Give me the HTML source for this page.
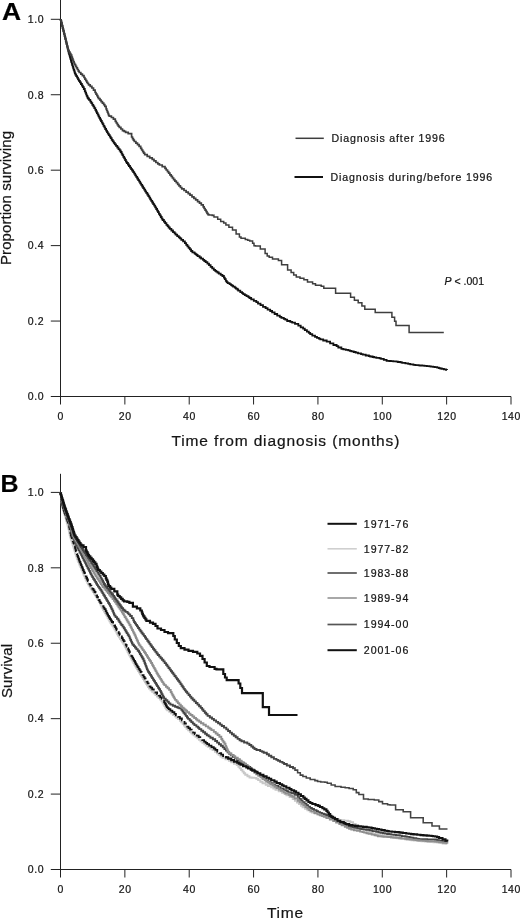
<!DOCTYPE html>
<html lang="en">
<head>
<meta charset="utf-8">
<title>Survival curves</title>
<style>
html,body{margin:0;padding:0;background:#fff;}
body{width:520px;height:919px;overflow:hidden;}
svg{display:block;font-family:"Liberation Sans",Arial,Helvetica,sans-serif;fill:#1a1a1a;}
svg text{fill:#151515;stroke:#151515;stroke-width:0.22px;}
.tk text{font-size:10.5px;letter-spacing:0.6px;}
.lg{font-size:10.6px;}
.pv{font-size:10.5px;}
.ax{font-size:15.5px;}
.ay{font-size:15px;}
.pl{font-weight:bold;fill:#000;}
</style>
</head>
<body>
<svg width="520" height="919" viewBox="0 0 520 919">
<rect width="520" height="919" fill="#fff"/>
<g stroke="#222" stroke-width="1" fill="none" shape-rendering="auto">
<line x1="60.5" y1="0" x2="60.5" y2="404.5"/>
<line x1="50.8" y1="396.5" x2="511" y2="396.5"/>
<line x1="50.8" y1="321.06" x2="60.5" y2="321.06"/>
<line x1="50.8" y1="245.62" x2="60.5" y2="245.62"/>
<line x1="50.8" y1="170.18" x2="60.5" y2="170.18"/>
<line x1="50.8" y1="94.74" x2="60.5" y2="94.74"/>
<line x1="50.8" y1="19.30" x2="60.5" y2="19.30"/>
<line x1="124.86" y1="396.5" x2="124.86" y2="404.5"/>
<line x1="189.21" y1="396.5" x2="189.21" y2="404.5"/>
<line x1="253.57" y1="396.5" x2="253.57" y2="404.5"/>
<line x1="317.93" y1="396.5" x2="317.93" y2="404.5"/>
<line x1="382.29" y1="396.5" x2="382.29" y2="404.5"/>
<line x1="446.64" y1="396.5" x2="446.64" y2="404.5"/>
<line x1="511.00" y1="396.5" x2="511.00" y2="404.5"/>
</g>
<g class="tk">
<text x="44.2" y="400.30" text-anchor="end">0.0</text>
<text x="44.2" y="324.86" text-anchor="end">0.2</text>
<text x="44.2" y="249.42" text-anchor="end">0.4</text>
<text x="44.2" y="173.98" text-anchor="end">0.6</text>
<text x="44.2" y="98.54" text-anchor="end">0.8</text>
<text x="44.2" y="23.10" text-anchor="end">1.0</text>
<text x="60.80" y="419.70" text-anchor="middle">0</text>
<text x="125.16" y="419.70" text-anchor="middle">20</text>
<text x="189.51" y="419.70" text-anchor="middle">40</text>
<text x="253.87" y="419.70" text-anchor="middle">60</text>
<text x="318.23" y="419.70" text-anchor="middle">80</text>
<text x="382.59" y="419.70" text-anchor="middle">100</text>
<text x="446.94" y="419.70" text-anchor="middle">120</text>
<text x="511.30" y="419.70" text-anchor="middle">140</text>
</g>
<polyline points="60.6,19.0 60.6,19.8 61.0,19.8 61.0,21.4 61.4,21.4 61.4,23.0 61.8,23.0 61.8,24.6 62.2,24.6 62.2,26.2 62.6,26.2 62.6,27.8 63.0,27.8 63.0,29.4 63.4,29.4 63.4,31.0 63.8,31.0 63.8,32.6 64.2,32.6 64.2,34.2 64.6,34.2 64.6,35.8 65.0,35.8 65.0,37.5 65.4,37.5 65.4,39.2 65.8,39.2 65.8,40.9 66.2,40.9 66.2,42.5 66.6,42.5 66.6,44.2 67.0,44.2 67.0,45.9 67.4,45.9 67.4,47.5 67.8,47.5 67.8,49.2 68.2,49.2 68.2,50.9 68.6,50.9 68.6,52.5 69.1,52.5 69.1,54.1 69.5,54.1 69.5,55.7 70.0,55.7 70.0,57.3 70.4,57.3 70.4,58.9 70.9,58.9 70.9,60.5 71.3,60.5 71.3,62.1 71.8,62.1 71.8,63.7 72.2,63.7 72.2,65.2 72.7,65.2 72.7,66.7 73.2,66.7 73.2,68.3 73.7,68.3 73.7,69.9 74.3,69.9 74.3,71.5 74.8,71.5 74.8,73.1 75.3,73.1 75.3,74.5 76.2,74.5 76.2,76.1 77.1,76.1 77.1,77.7 78.0,77.7 78.0,79.3 78.9,79.3 78.9,80.8 79.9,80.8 79.9,82.4 80.9,82.4 80.9,84.0 81.9,84.0 81.9,85.6 82.8,85.6 82.8,87.1 83.8,87.1 83.8,89.0 84.8,89.0 84.8,91.1 85.4,91.1 85.4,92.7 86.1,92.7 86.1,94.3 86.7,94.3 86.7,95.9 87.4,95.9 87.4,97.5 88.0,97.5 88.0,98.5 89.0,98.5 89.0,99.9 90.3,99.9 90.3,101.6 91.3,101.6 91.3,103.2 92.3,103.2 92.3,104.8 93.3,104.8 93.3,106.4 94.3,106.4 94.3,108.1 95.3,108.1 95.3,109.9 96.1,109.9 96.1,111.5 96.9,111.5 96.9,113.1 97.7,113.1 97.7,114.7 98.5,114.7 98.5,116.3 99.3,116.3 99.3,117.9 100.1,117.9 100.1,119.5 101.0,119.5 101.0,121.0 101.8,121.0 101.8,122.6 102.7,122.6 102.7,124.2 103.5,124.2 103.5,125.8 104.4,125.8 104.4,127.4 105.2,127.4 105.2,129.0 106.1,129.0 106.1,130.6 107.0,130.6 107.0,132.2 107.8,132.2 107.8,133.6 108.8,133.6 108.8,135.2 109.8,135.2 109.8,136.7 110.7,136.7 110.7,138.2 111.7,138.2 111.7,139.8 112.7,139.8 112.7,141.4 113.8,141.4 113.8,142.9 114.8,142.9 114.8,144.3 116.0,144.3 116.0,145.9 117.3,145.9 117.3,147.5 118.5,147.5 118.5,149.1 119.7,149.1 119.7,150.5 120.7,150.5 120.7,152.0 121.6,152.0 121.6,153.6 122.4,153.6 122.4,155.2 123.3,155.2 123.3,156.8 124.2,156.8 124.2,158.4 125.1,158.4 125.1,160.0 125.9,160.0 125.9,161.6 126.8,161.6 126.8,163.0 127.9,163.0 127.9,164.5 128.9,164.5 128.9,166.0 130.0,166.0 130.0,167.6 131.1,167.6 131.1,169.1 132.1,169.1 132.1,170.5 133.2,170.5 133.2,172.1 134.2,172.1 134.2,173.7 135.2,173.7 135.2,175.3 136.2,175.3 136.2,176.9 137.2,176.9 137.2,178.5 138.2,178.5 138.2,180.1 139.2,180.1 139.2,181.7 140.2,181.7 140.2,183.3 141.2,183.3 141.2,184.9 142.2,184.9 142.2,186.5 143.2,186.5 143.2,188.1 144.2,188.1 144.2,189.7 145.2,189.7 145.2,191.3 146.2,191.3 146.2,192.9 147.3,192.9 147.3,194.5 148.3,194.5 148.3,196.1 149.3,196.1 149.3,197.7 150.2,197.7 150.2,199.3 151.2,199.3 151.2,200.9 152.2,200.9 152.2,202.5 153.2,202.5 153.2,204.1 154.2,204.1 154.2,205.7 155.2,205.7 155.2,207.3 156.2,207.3 156.2,209.0 157.1,209.0 157.1,210.6 158.0,210.6 158.0,212.2 158.9,212.2 158.9,213.8 159.8,213.8 159.8,215.4 160.8,215.4 160.8,217.0 161.7,217.0 161.7,218.6 162.6,218.6 162.6,220.0 163.9,220.0 163.9,221.6 165.1,221.6 165.1,223.2 166.4,223.2 166.4,224.8 167.6,224.8 167.6,226.2 168.6,226.2 168.6,227.5 169.8,227.5 169.8,228.9 171.4,228.9 171.4,230.5 173.0,230.5 173.0,232.1 174.6,232.1 174.6,233.4 175.6,233.4 175.6,234.7 177.2,234.7 177.2,236.1 178.8,236.1 178.8,237.3 180.0,237.3 180.0,238.4 181.3,238.4 181.3,239.8 183.1,239.8 183.1,241.3 184.9,241.3 184.9,243.2 186.2,243.2 186.2,244.8 187.4,244.8 187.4,246.3 188.6,246.3 188.6,247.8 189.8,247.8 189.8,249.4 191.1,249.4 191.1,251.0 192.4,251.0 192.4,252.3 194.5,252.3 194.5,253.4 195.4,253.4 195.4,254.2 196.5,254.2 196.5,255.0 197.6,255.0 197.6,256.2 199.6,256.2 199.6,257.5 201.1,257.5 201.1,258.7 203.0,258.7 203.0,259.9 204.3,259.9 204.3,261.0 205.7,261.0 205.7,262.1 207.4,262.1 207.4,263.6 209.0,263.6 209.0,265.2 210.6,265.2 210.6,266.8 212.2,266.8 212.2,268.4 213.8,268.4 213.8,269.9 215.2,269.9 215.2,270.9 216.2,270.9 216.2,271.7 217.5,271.7 217.5,272.5 218.8,272.5 218.8,273.6 220.7,273.6 220.7,274.9 222.4,274.9 222.4,276.0 223.9,276.0 223.9,277.6 224.8,277.6 224.8,279.2 225.8,279.2 225.8,280.8 226.7,280.8 226.7,282.1 227.7,282.1 227.7,283.1 229.6,283.1 229.6,284.1 230.9,284.1 230.9,284.8 231.8,284.8 231.8,285.6 233.1,285.6 233.1,286.6 234.8,286.6 234.8,287.7 235.9,287.7 235.9,288.6 237.4,288.6 237.4,289.5 238.2,289.5 238.2,290.6 240.3,290.6 240.3,292.1 242.1,292.1 242.1,293.2 243.2,293.2 243.2,294.1 244.8,294.1 244.8,295.1 246.5,295.1 246.5,296.2 248.4,296.2 248.4,297.1 249.5,297.1 249.5,298.0 251.2,298.0 251.2,299.3 253.8,299.3 253.8,300.9 256.3,300.9 256.3,302.2 258.0,302.2 258.0,303.6 260.5,303.6 260.5,305.2 263.0,305.2 263.0,306.8 265.6,306.8 265.6,308.2 267.6,308.2 267.6,309.6 270.2,309.6 270.2,311.0 272.1,311.0 272.1,312.4 274.6,312.4 274.6,314.0 277.2,314.0 277.2,315.6 279.8,315.6 279.8,316.8 281.4,316.8 281.4,317.8 283.8,317.8 283.8,318.8 285.3,318.8 285.3,319.7 287.2,319.7 287.2,321.0 290.3,321.0 290.3,321.9 292.2,321.9 292.2,322.6 295.0,322.6 295.0,323.8 298.3,323.8 298.3,325.7 300.7,325.7 300.7,327.3 303.1,327.3 303.1,328.7 304.8,328.7 304.8,330.2 306.9,330.2 306.9,331.7 308.8,331.7 308.8,332.9 310.2,332.9 310.2,334.2 312.3,334.2 312.3,335.7 315.0,335.7 315.0,336.8 317.0,336.8 317.0,337.8 318.9,337.8 318.9,338.6 320.3,338.6 320.3,339.4 323.2,339.4 323.2,340.5 326.7,340.5 326.7,341.7 330.1,341.7 330.1,343.4 333.4,343.4 333.4,345.0 336.6,345.0 336.6,346.2 338.3,346.2 338.3,347.5 341.4,347.5 341.4,348.8 343.4,348.8 343.4,349.3 345.8,349.3 345.8,349.9 348.3,349.9 348.3,350.4 349.9,350.4 349.9,350.8 351.4,350.8 351.4,351.3 353.7,351.3 353.7,352.0 355.7,352.0 355.7,352.6 358.0,352.6 358.0,353.4 361.0,353.4 361.0,354.1 362.8,354.1 362.8,354.7 365.7,354.7 365.7,355.5 368.9,355.5 368.9,356.1 370.2,356.1 370.2,356.5 372.6,356.5 372.6,357.0 374.1,357.0 374.1,357.3 376.3,357.3 376.3,357.9 379.6,357.9 379.6,358.4 381.1,358.4 381.1,358.8 383.8,358.8 383.8,359.9 386.6,359.9 386.6,360.8 389.4,360.8 389.4,361.0 390.8,361.0 390.8,361.1 393.3,361.1 393.3,361.3 396.5,361.3 396.5,361.7 398.0,361.7 398.0,362.0 400.6,362.0 400.6,362.4 402.2,362.4 402.2,362.8 405.4,362.8 405.4,363.4 408.2,363.4 408.2,363.9 410.3,363.9 410.3,364.4 413.4,364.4 413.4,364.9 415.4,364.9 415.4,365.1 417.0,365.1 417.0,365.2 418.7,365.2 418.7,365.4 420.1,365.4 420.1,365.5 422.3,365.5 422.3,365.7 424.4,365.7 424.4,365.9 426.8,365.9 426.8,366.2 429.5,366.2 429.5,366.4 431.0,366.4 431.0,366.6 433.1,366.6 433.1,366.9 434.7,366.9 434.7,367.2 437.2,367.2 437.2,367.7 438.9,367.7 438.9,368.1 440.3,368.1 440.3,368.5 441.8,368.5 441.8,368.9 443.9,368.9 443.9,369.4 446.0,369.4 446.0,369.9 447.0,369.9 447.0,370.0" fill="none" stroke="#111" stroke-width="1.8" stroke-linejoin="miter" stroke-miterlimit="2" stroke-linecap="butt"/>
<polyline points="214.0,215.6 214.0,216.9 217.7,216.9 217.7,219.3 220.7,219.3 220.7,221.4 223.7,221.4 223.7,223.1 225.9,223.1 225.9,224.9 228.9,224.9 228.9,227.3 232.5,227.3 232.5,229.9 236.1,229.9 236.1,233.9 239.4,233.9 239.4,237.1 241.0,237.1 241.0,238.2 245.3,238.2 245.3,239.4 247.7,239.4 247.7,240.2 249.7,240.2 249.7,241.1 252.6,241.1 252.6,243.3 254.0,243.3 254.0,245.7 255.4,245.7 255.4,246.0 260.3,246.0 260.3,249.1 265.1,249.1 265.1,253.5 267.2,253.5 267.2,256.1 269.2,256.1 269.2,257.3 272.5,257.3 272.5,258.9 278.4,258.9 278.4,260.4 281.6,260.4 281.6,264.7 287.6,264.7 287.6,269.9 291.1,269.9 291.1,272.4 293.7,272.4 293.7,275.0 296.3,275.0 296.3,276.9 300.0,276.9 300.0,278.3 303.9,278.3 303.9,279.7 307.5,279.7 307.5,282.0 312.6,282.0 312.6,283.7 315.5,283.7 315.5,285.2 321.2,285.2 321.2,286.2 321.5,286.2 321.5,286.3 323.8,286.3 323.8,288.3 335.6,288.3 335.6,293.3 350.6,293.3 350.6,297.2 354.4,297.2 354.4,300.2 358.2,300.2 358.2,302.8 361.9,302.8 361.9,306.0 364.8,306.0 364.8,309.3 375.2,309.3 375.2,312.5 391.9,312.5 391.9,317.2 394.6,317.2 394.6,321.3 396.0,321.3 396.0,325.5 409.1,325.5 409.1,332.5 443.8,332.5" fill="none" stroke="#3e3e3e" stroke-width="1.5" stroke-linejoin="miter" stroke-miterlimit="2" stroke-linecap="butt"/>
<polyline points="60.6,19.0 60.6,19.8 61.0,19.8 61.0,21.4 61.4,21.4 61.4,23.0 61.8,23.0 61.8,24.6 62.2,24.6 62.2,26.2 62.6,26.2 62.6,27.8 63.0,27.8 63.0,29.4 63.4,29.4 63.4,31.0 63.8,31.0 63.8,32.6 64.2,32.6 64.2,34.2 64.6,34.2 64.6,35.8 65.0,35.8 65.0,37.5 65.4,37.5 65.4,39.1 65.8,39.1 65.8,40.8 66.2,40.8 66.2,42.4 66.6,42.4 66.6,44.1 67.0,44.1 67.0,45.7 67.4,45.7 67.4,47.3 67.8,47.3 67.8,49.0 68.2,49.0 68.2,50.4 69.1,50.4 69.1,52.0 70.0,52.0 70.0,53.6 70.8,53.6 70.8,55.2 71.7,55.2 71.7,57.1 72.3,57.1 72.3,58.7 72.9,58.7 72.9,60.3 73.5,60.3 73.5,61.9 74.1,61.9 74.1,63.3 74.7,63.3 74.7,64.7 75.6,64.7 75.6,66.3 76.5,66.3 76.5,67.9 77.4,67.9 77.4,69.5 78.3,69.5 78.3,71.1 79.2,71.1 79.2,72.5 80.8,72.5 80.8,74.1 82.4,74.1 82.4,75.7 84.0,75.7 84.0,77.5 84.9,77.5 84.9,79.1 85.8,79.1 85.8,80.7 86.8,80.7 86.8,82.3 87.7,82.3 87.7,83.5 88.6,83.5 88.6,84.8 90.2,84.8 90.2,86.4 91.9,86.4 91.9,88.0 93.5,88.0 93.5,90.2 95.1,90.2 95.1,92.5 96.0,92.5 96.0,94.1 96.9,94.1 96.9,95.7 97.8,95.7 97.8,97.3 98.6,97.3 98.6,98.7 100.0,98.7 100.0,100.2 101.1,100.2 101.1,101.6 102.4,101.6 102.4,103.2 103.7,103.2 103.7,104.6 104.8,104.6 104.8,106.4 106.1,106.4 106.1,108.9 106.7,108.9 106.7,110.5 107.4,110.5 107.4,112.1 108.0,112.1 108.0,113.7 108.6,113.7 108.6,115.3 109.3,115.3 109.3,116.2 111.4,116.2 111.4,117.5 113.4,117.5 113.4,119.1 115.3,119.1 115.3,121.4 116.3,121.4 116.3,123.0 117.3,123.0 117.3,124.6 118.3,124.6 118.3,126.1 119.3,126.1 119.3,127.4 120.9,127.4 120.9,129.0 122.5,129.0 122.5,130.6 124.1,130.6 124.1,131.4 125.6,131.4 125.6,132.3 128.2,132.3 128.2,133.6 131.6,133.6 131.6,137.0 132.5,137.0 132.5,138.6 133.4,138.6 133.4,140.2 134.3,140.2 134.3,141.5 135.9,141.5 135.9,143.1 137.5,143.1 137.5,144.7 139.1,144.7 139.1,146.3 140.7,146.3 140.7,148.4 141.7,148.4 141.7,150.0 142.7,150.0 142.7,151.6 143.7,151.6 143.7,153.2 144.7,153.2 144.7,154.7 147.2,154.7 147.2,156.3 149.7,156.3 149.7,157.9 152.2,157.9 152.2,159.4 154.0,159.4 154.0,160.9 155.9,160.9 155.9,162.5 157.8,162.5 157.8,163.8 159.4,163.8 159.4,165.0 162.2,165.0 162.2,166.6 165.0,166.6 165.0,168.4 166.2,168.4 166.2,170.0 167.5,170.0 167.5,171.6 168.7,171.6 168.7,173.2 169.9,173.2 169.9,174.8 171.2,174.8 171.2,176.4 172.4,176.4 172.4,178.0 173.6,178.0 173.6,179.6 174.9,179.6 174.9,181.1 176.3,181.1 176.3,182.7 177.7,182.7 177.7,184.3 179.0,184.3 179.0,185.9 180.4,185.9 180.4,187.5 181.8,187.5 181.8,188.9 184.0,188.9 184.0,190.5 186.1,190.5 186.1,192.1 188.2,192.1 188.2,193.6 190.0,193.6 190.0,195.2 192.0,195.2 192.0,196.8 193.9,196.8 193.9,198.3 195.7,198.3 195.7,199.9 197.6,199.9 197.6,201.6 199.5,201.6 199.5,203.2 201.3,203.2 201.3,204.8 203.2,204.8 203.2,206.9 204.1,206.9 204.1,208.5 205.1,208.5 205.1,210.1 206.1,210.1 206.1,211.7 207.0,211.7 207.0,213.3 208.0,213.3 208.0,214.6 209.0,214.6 209.0,215.0 212.3,215.0 212.3,215.4 214.0,215.4 214.0,215.6" fill="none" stroke="#3e3e3e" stroke-width="1.7" stroke-linejoin="miter" stroke-miterlimit="2" stroke-linecap="butt"/>
<text class="pl" transform="translate(1.9 19.7) scale(1.1 1)" font-size="24">A</text>
<line x1="295.5" y1="138.3" x2="323.8" y2="138.3" stroke="#3e3e3e" stroke-width="1.5"/>
<line x1="294.5" y1="177" x2="323" y2="177" stroke="#111" stroke-width="2"/>
<text class="lg" x="331.6" y="142" textLength="113">Diagnosis after 1996</text>
<text class="lg" x="330.5" y="180.5" textLength="161.6">Diagnosis during/before 1996</text>
<text class="pv" x="444.6" y="285"><tspan font-style="italic">P</tspan> &lt; .001</text>
<text class="ax" x="285.4" y="445.5" text-anchor="middle" textLength="228">Time from diagnosis (months)</text>
<text class="ay" transform="translate(10.9 265) rotate(-90)" textLength="134">Proportion surviving</text>
<g stroke="#222" stroke-width="1" fill="none" shape-rendering="auto">
<line x1="60.5" y1="473.8" x2="60.5" y2="877.5"/>
<line x1="50.8" y1="869.5" x2="511" y2="869.5"/>
<line x1="50.8" y1="794.08" x2="60.5" y2="794.08"/>
<line x1="50.8" y1="718.66" x2="60.5" y2="718.66"/>
<line x1="50.8" y1="643.24" x2="60.5" y2="643.24"/>
<line x1="50.8" y1="567.82" x2="60.5" y2="567.82"/>
<line x1="50.8" y1="492.40" x2="60.5" y2="492.40"/>
<line x1="124.86" y1="869.5" x2="124.86" y2="877.5"/>
<line x1="189.21" y1="869.5" x2="189.21" y2="877.5"/>
<line x1="253.57" y1="869.5" x2="253.57" y2="877.5"/>
<line x1="317.93" y1="869.5" x2="317.93" y2="877.5"/>
<line x1="382.29" y1="869.5" x2="382.29" y2="877.5"/>
<line x1="446.64" y1="869.5" x2="446.64" y2="877.5"/>
<line x1="511.00" y1="869.5" x2="511.00" y2="877.5"/>
</g>
<g class="tk">
<text x="44.2" y="873.30" text-anchor="end">0.0</text>
<text x="44.2" y="797.88" text-anchor="end">0.2</text>
<text x="44.2" y="722.46" text-anchor="end">0.4</text>
<text x="44.2" y="647.04" text-anchor="end">0.6</text>
<text x="44.2" y="571.62" text-anchor="end">0.8</text>
<text x="44.2" y="496.20" text-anchor="end">1.0</text>
<text x="60.80" y="892.70" text-anchor="middle">0</text>
<text x="125.16" y="892.70" text-anchor="middle">20</text>
<text x="189.51" y="892.70" text-anchor="middle">40</text>
<text x="253.87" y="892.70" text-anchor="middle">60</text>
<text x="318.23" y="892.70" text-anchor="middle">80</text>
<text x="382.59" y="892.70" text-anchor="middle">100</text>
<text x="446.94" y="892.70" text-anchor="middle">120</text>
<text x="511.30" y="892.70" text-anchor="middle">140</text>
</g>
<polyline points="60.6,492.5 60.6,494.8 61.0,494.8 61.0,500.5 61.4,500.5 61.4,502.6 61.8,502.6 61.8,504.7 62.2,504.7 62.2,506.6 62.6,506.6 62.6,508.2 63.0,508.2 63.0,509.8 63.5,509.8 63.5,511.4 63.9,511.4 63.9,512.9 64.4,512.9 64.4,514.5 64.9,514.5 64.9,516.1 65.4,516.1 65.4,517.7 65.9,517.7 65.9,519.4 66.3,519.4 66.3,521.0 66.8,521.0 66.8,522.6 67.3,522.6 67.3,524.2 67.7,524.2 67.7,525.9 68.1,525.9 68.1,527.6 68.5,527.6 68.5,529.3 68.9,529.3 68.9,531.3 69.3,531.3 69.3,533.4 69.7,533.4 69.7,535.2 70.1,535.2 70.1,536.7 70.6,536.7 70.6,538.3 71.1,538.3 71.1,539.9 71.6,539.9 71.6,541.5 72.1,541.5 72.1,543.1 72.6,543.1 72.6,544.7 73.1,544.7 73.1,546.3 73.6,546.3 73.6,547.9 74.1,547.9 74.1,549.5 74.6,549.5 74.6,551.1 75.1,551.1 75.1,552.7 75.5,552.7 75.5,554.2 76.1,554.2 76.1,555.8 76.6,555.8 76.6,557.4 77.2,557.4 77.2,559.0 77.7,559.0 77.7,560.5 78.3,560.5 78.3,562.0 79.0,562.0 79.0,563.6 79.6,563.6 79.6,565.2 80.3,565.2 80.3,566.8 81.0,566.8 81.0,568.4 81.6,568.4 81.6,570.0 82.3,570.0 82.3,571.6 83.0,571.6 83.0,573.2 83.6,573.2 83.6,574.8 84.3,574.8 84.3,576.4 85.0,576.4 85.0,578.0 85.7,578.0 85.7,579.5 86.5,579.5 86.5,581.1 87.3,581.1 87.3,582.7 88.0,582.7 88.0,584.2 88.8,584.2 88.8,585.6 89.8,585.6 89.8,587.2 90.8,587.2 90.8,588.8 91.8,588.8 91.8,590.4 92.9,590.4 92.9,592.0 93.9,592.0 93.9,593.6 94.9,593.6 94.9,595.3 95.9,595.3 95.9,596.9 96.9,596.9 96.9,598.5 97.9,598.5 97.9,600.1 98.9,600.1 98.9,601.8 99.9,601.8 99.9,603.6 100.7,603.6 100.7,605.2 101.5,605.2 101.5,606.8 102.3,606.8 102.3,608.4 103.1,608.4 103.1,610.0 104.0,610.0 104.0,611.6 104.9,611.6 104.9,613.2 105.9,613.2 105.9,614.8 106.8,614.8 106.8,616.4 107.7,616.4 107.7,618.0 108.6,618.0 108.6,619.6 109.5,619.6 109.5,621.2 110.4,621.2 110.4,622.8 111.3,622.8 111.3,624.3 112.4,624.3 112.4,625.9 113.5,625.9 113.5,627.5 114.5,627.5 114.5,629.2 115.6,629.2 115.6,631.0 116.4,631.0 116.4,632.6 117.2,632.6 117.2,634.2 118.0,634.2 118.0,635.8 119.1,635.8 119.1,637.4 120.1,637.4 120.1,639.0 121.2,639.0 121.2,640.6 122.3,640.6 122.3,642.2 123.3,642.2 123.3,643.8 124.4,643.8 124.4,645.6 125.2,645.6 125.2,647.2 126.0,647.2 126.0,648.8 126.8,648.8 126.8,650.4 127.6,650.4 127.6,652.0 128.4,652.0 128.4,653.6 129.2,653.6 129.2,655.2 130.1,655.2 130.1,656.8 130.9,656.8 130.9,658.3 131.7,658.3 131.7,659.9 132.6,659.9 132.6,661.5 133.5,661.5 133.5,663.1 134.4,663.1 134.4,664.7 135.3,664.7 135.3,666.3 136.1,666.3 136.1,667.9 137.0,667.9 137.0,669.4 138.0,669.4 138.0,671.0 139.0,671.0 139.0,672.6 140.0,672.6 140.0,674.2 141.0,674.2 141.0,675.8 142.0,675.8 142.0,677.4 143.1,677.4 143.1,679.0 144.0,679.0 144.0,680.6 145.0,680.6 145.0,682.2 146.0,682.2 146.0,683.8 147.0,683.8 147.0,685.4 148.0,685.4 148.0,687.0 149.0,687.0 149.0,688.6 150.6,688.6 150.6,690.2 152.2,690.2 152.2,691.8 153.8,691.8 153.8,693.4 155.5,693.4 155.5,695.0 157.0,695.0 157.0,696.6 158.6,696.6 158.6,698.1 160.1,698.1 160.1,699.6 161.6,699.6 161.6,701.3 162.6,701.3 162.6,702.9 163.5,702.9 163.5,704.5 164.4,704.5 164.4,706.1 165.3,706.1 165.3,707.7 166.2,707.7 166.2,709.2 167.2,709.2 167.2,710.3 169.2,710.3 169.2,711.9 171.0,711.9 171.0,713.4 173.0,713.4 173.0,715.0 174.9,715.0 174.9,716.4 176.4,716.4 176.4,717.7 178.0,717.7 178.0,719.1 179.9,719.1 179.9,720.7 181.3,720.7 181.3,722.3 182.7,722.3 182.7,723.9 184.0,723.9 184.0,725.5 185.3,725.5 185.3,727.1 186.6,727.1 186.6,728.7 188.2,728.7 188.2,730.3 189.9,730.3 189.9,731.9 191.4,731.9 191.4,733.2 192.6,733.2 192.6,734.3 193.7,734.3 193.7,735.4 195.5,735.4 195.5,736.9 197.4,736.9 197.4,738.4 199.0,738.4 199.0,739.7 200.6,739.7 200.6,741.2 202.5,741.2 202.5,742.8 204.4,742.8 204.4,744.3 206.1,744.3 206.1,745.6 207.8,745.6 207.8,746.9 210.2,746.9 210.2,748.5 212.6,748.5 212.6,750.1 215.0,750.1 215.0,751.9 216.9,751.9 216.9,753.4 218.6,753.4 218.6,754.9 220.5,754.9 220.5,756.5 222.5,756.5 222.5,757.7 225.5,757.7 225.5,759.2 228.9,759.2 228.9,760.7 231.2,760.7 231.2,762.2 234.0,762.2 234.0,763.8 236.8,763.8 236.8,765.1 238.4,765.1 238.4,766.8 239.7,766.8 239.7,768.4 241.1,768.4 241.1,770.0 242.5,770.0 242.5,771.6 243.8,771.6 243.8,773.2 245.2,773.2 245.2,774.7 247.4,774.7 247.4,776.3 249.5,776.3 249.5,777.5 251.7,777.5 251.7,777.7 254.2,777.7 254.2,777.9 256.3,777.9 256.3,778.7 258.1,778.7 258.1,780.1 260.3,780.1 260.3,781.7 262.5,781.7 262.5,783.3 265.7,783.3 265.7,784.7 267.9,784.7 267.9,786.1 271.1,786.1 271.1,787.4 273.3,787.4 273.3,788.5 275.5,788.5 275.5,789.8 278.7,789.8 278.7,791.4 281.9,791.4 281.9,792.9 284.6,792.9 284.6,794.0 286.4,794.0 286.4,795.3 289.6,795.3 289.6,797.1 292.7,797.1 292.7,799.1 294.9,799.1 294.9,800.8 297.0,800.8 297.0,802.5 299.0,802.5 299.0,804.1 300.9,804.1 300.9,805.7 302.6,805.7 302.6,807.2 305.0,807.2 305.0,808.8 307.4,808.8 307.4,810.4 309.8,810.4 309.8,811.6 311.9,811.6 311.9,812.5 314.7,812.5 314.7,813.5 317.1,813.5 317.1,814.4 319.5,814.4 319.5,815.1 321.5,815.1 321.5,815.7 324.4,815.7 324.4,816.3 326.0,816.3 326.0,816.7 327.7,816.7 327.7,817.1 329.3,817.1 329.3,817.7 332.2,817.7 332.2,818.5 335.6,818.5 335.6,819.3 338.7,819.3 338.7,819.9 340.6,819.9 340.6,820.3 344.3,820.3 344.3,820.8 348.0,820.8 348.0,821.2 350.4,821.2 350.4,822.3 353.1,822.3 353.1,823.9 355.7,823.9 355.7,825.5 358.5,825.5 358.5,827.0 361.2,827.0 361.2,828.6 364.0,828.6 364.0,830.2 366.8,830.2 366.8,831.4 370.7,831.4 370.7,832.7 373.4,832.7 373.4,833.6 375.3,833.6 375.3,834.1 377.5,834.1 377.5,834.7 380.0,834.7 380.0,835.3 381.6,835.3 381.6,835.7 383.3,835.7 383.3,836.3 387.0,836.3 387.0,837.0 390.9,837.0 390.9,837.5 392.7,837.5 392.7,837.8 394.5,837.8 394.5,838.1 397.3,838.1 397.3,838.4 399.3,838.4 399.3,838.7 401.3,838.7 401.3,839.1 404.9,839.1 404.9,839.4 406.7,839.4 406.7,839.7 409.5,839.7 409.5,840.0 411.4,840.0 411.4,840.2 413.9,840.2 413.9,840.6 417.5,840.6 417.5,841.0 421.4,841.0 421.4,841.3 423.3,841.3 423.3,841.4 424.9,841.4 424.9,841.6 427.0,841.6 427.0,841.7 428.7,841.7 428.7,841.9 430.3,841.9 430.3,842.1 433.5,842.1 433.5,842.3 435.1,842.3 435.1,842.4 437.3,842.4 437.3,842.6 439.3,842.6 439.3,843.0 442.6,843.0 442.6,843.5 445.5,843.5 445.5,843.9 447.3,843.9 447.3,844.0" fill="none" stroke="#c8c8c8" stroke-width="1.9" stroke-linejoin="miter" stroke-miterlimit="2" stroke-linecap="butt"/>
<polyline points="60.6,492.5 60.6,494.2 61.0,494.2 61.0,498.7 61.4,498.7 61.4,501.3 61.8,501.3 61.8,503.1 62.2,503.1 62.2,504.9 62.6,504.9 62.6,506.6 63.1,506.6 63.1,508.2 63.6,508.2 63.6,509.8 64.0,509.8 64.0,511.4 64.5,511.4 64.5,512.9 65.1,512.9 65.1,514.5 65.6,514.5 65.6,516.1 66.2,516.1 66.2,517.7 66.7,517.7 66.7,519.3 67.3,519.3 67.3,520.9 67.8,520.9 67.8,522.5 68.4,522.5 68.4,524.2 68.8,524.2 68.8,525.8 69.2,525.8 69.2,527.4 69.6,527.4 69.6,529.0 70.0,529.0 70.0,531.1 70.4,531.1 70.4,533.1 70.8,533.1 70.8,535.1 71.2,535.1 71.2,536.5 71.8,536.5 71.8,538.1 72.3,538.1 72.3,539.7 72.8,539.7 72.8,541.3 73.4,541.3 73.4,542.9 73.9,542.9 73.9,544.5 74.4,544.5 74.4,546.1 75.0,546.1 75.0,547.8 75.5,547.8 75.5,549.5 75.9,549.5 75.9,551.1 76.4,551.1 76.4,552.7 76.9,552.7 76.9,554.2 77.4,554.2 77.4,555.8 78.0,555.8 78.0,557.4 78.6,557.4 78.6,559.0 79.1,559.0 79.1,560.5 79.7,560.5 79.7,562.0 80.4,562.0 80.4,563.6 81.0,563.6 81.0,565.2 81.7,565.2 81.7,566.8 82.4,566.8 82.4,568.4 83.0,568.4 83.0,570.0 83.7,570.0 83.7,571.6 84.4,571.6 84.4,573.2 85.1,573.2 85.1,574.8 85.8,574.8 85.8,576.4 86.5,576.4 86.5,578.0 87.1,578.0 87.1,579.5 87.9,579.5 87.9,581.1 88.7,581.1 88.7,582.7 89.5,582.7 89.5,584.2 90.3,584.2 90.3,585.6 91.4,585.6 91.4,587.2 92.4,587.2 92.4,588.8 93.5,588.8 93.5,590.4 94.5,590.4 94.5,592.0 95.5,592.0 95.5,593.8 96.3,593.8 96.3,595.4 97.1,595.4 97.1,597.0 97.9,597.0 97.9,598.5 98.7,598.5 98.7,600.0 99.6,600.0 99.6,601.6 100.5,601.6 100.5,603.2 101.4,603.2 101.4,604.8 102.3,604.8 102.3,606.2 103.5,606.2 103.5,607.7 104.5,607.7 104.5,609.2 105.7,609.2 105.7,611.2 106.5,611.2 106.5,612.8 107.3,612.8 107.3,614.4 108.1,614.4 108.1,615.9 109.0,615.9 109.0,617.5 110.0,617.5 110.0,619.1 111.0,619.1 111.0,620.6 111.9,620.6 111.9,622.0 113.1,622.0 113.1,623.6 114.3,623.6 114.3,625.5 115.1,625.5 115.1,627.1 115.9,627.1 115.9,628.7 116.7,628.7 116.7,630.2 117.7,630.2 117.7,631.8 118.7,631.8 118.7,633.3 119.7,633.3 119.7,634.9 120.8,634.9 120.8,636.5 121.9,636.5 121.9,638.2 122.8,638.2 122.8,639.8 123.8,639.8 123.8,641.4 124.8,641.4 124.8,643.1 125.8,643.1 125.8,644.9 126.6,644.9 126.6,646.5 127.4,646.5 127.4,648.1 128.2,648.1 128.2,649.7 129.0,649.7 129.0,651.3 129.8,651.3 129.8,652.9 130.6,652.9 130.6,654.5 131.4,654.5 131.4,656.1 132.3,656.1 132.3,657.7 133.2,657.7 133.2,659.3 134.1,659.3 134.1,660.9 135.0,660.9 135.0,662.5 135.8,662.5 135.8,664.1 136.7,664.1 136.7,665.7 137.6,665.7 137.6,667.2 138.6,667.2 138.6,668.8 139.6,668.8 139.6,670.4 140.6,670.4 140.6,672.0 141.6,672.0 141.6,673.6 142.6,673.6 142.6,675.2 143.6,675.2 143.6,676.8 144.6,676.8 144.6,678.5 145.6,678.5 145.6,680.1 146.6,680.1 146.6,681.7 147.6,681.7 147.6,683.3 148.6,683.3 148.6,684.9 149.6,684.9 149.6,686.4 150.6,686.4 150.6,687.7 152.2,687.7 152.2,689.3 153.8,689.3 153.8,690.9 155.5,690.9 155.5,692.5 157.1,692.5 157.1,694.1 158.7,694.1 158.7,695.7 160.2,695.7 160.2,697.3 161.8,697.3 161.8,698.8 163.2,698.8 163.2,700.7 164.1,700.7 164.1,702.3 165.0,702.3 165.0,703.9 165.9,703.9 165.9,705.5 166.8,705.5 166.8,707.1 167.8,707.1 167.8,708.1 168.8,708.1 168.8,709.2 170.4,709.2 170.4,710.6 172.4,710.6 172.4,712.2 174.4,712.2 174.4,713.9 175.9,713.9 175.9,715.3 177.9,715.3 177.9,716.9 179.9,716.9 179.9,718.5 181.9,718.5 181.9,720.3 183.2,720.3 183.2,721.9 184.5,721.9 184.5,723.5 185.9,723.5 185.9,725.1 187.2,725.1 187.2,726.6 188.5,726.6 188.5,728.1 190.1,728.1 190.1,729.7 191.7,729.7 191.7,731.2 193.1,731.2 193.1,732.6 194.8,732.6 194.8,734.1 196.8,734.1 196.8,735.7 198.7,735.7 198.7,737.1 200.3,737.1 200.3,738.5 202.2,738.5 202.2,740.1 204.1,740.1 204.1,741.6 205.7,741.6 205.7,742.9 207.2,742.9 207.2,744.2 209.1,744.2 209.1,745.6 211.5,745.6 211.5,747.2 213.8,747.2 213.8,748.5 215.4,748.5 215.4,749.9 217.3,749.9 217.3,751.5 219.3,751.5 219.3,753.1 221.2,753.1 221.2,754.7 223.1,754.7 223.1,756.1 226.1,756.1" fill="none" stroke="#111" stroke-width="1.8" stroke-linejoin="miter" stroke-miterlimit="2" stroke-linecap="butt" stroke-dasharray="22 0 6 2.6 8 3 5 2.4 9 2.8 4.5 2.2 7 3.2"/>
<polyline points="60.6,492.5 60.6,494.2 61.0,494.2 61.0,497.0 61.4,497.0 61.4,499.0 61.8,499.0 61.8,500.8 62.2,500.8 62.2,502.4 62.6,502.4 62.6,504.0 63.0,504.0 63.0,505.6 63.5,505.6 63.5,507.1 64.0,507.1 64.0,508.7 64.5,508.7 64.5,510.3 65.0,510.3 65.0,511.9 65.5,511.9 65.5,513.4 66.0,513.4 66.0,515.0 66.6,515.0 66.6,516.6 67.1,516.6 67.1,518.2 67.7,518.2 67.7,519.8 68.2,519.8 68.2,521.4 68.8,521.4 68.8,523.0 69.3,523.0 69.3,524.7 69.8,524.7 69.8,526.3 70.3,526.3 70.3,527.9 70.7,527.9 70.7,529.8 71.2,529.8 71.2,532.0 71.6,532.0 71.6,534.1 72.0,534.1 72.0,535.8 72.8,535.8 72.8,537.4 73.5,537.4 73.5,539.0 74.2,539.0 74.2,540.7 75.0,540.7 75.0,542.3 75.7,542.3 75.7,543.9 76.4,543.9 76.4,545.4 77.1,545.4 77.1,546.9 77.9,546.9 77.9,548.5 78.7,548.5 78.7,550.1 79.5,550.1 79.5,551.7 80.3,551.7 80.3,553.3 81.1,553.3 81.1,554.9 81.9,554.9 81.9,556.5 82.7,556.5 82.7,558.1 83.5,558.1 83.5,559.7 84.3,559.7 84.3,561.3 85.1,561.3 85.1,562.9 85.9,562.9 85.9,564.5 86.7,564.5 86.7,566.1 87.5,566.1 87.5,567.7 88.3,567.7 88.3,569.3 89.1,569.3 89.1,570.9 89.9,570.9 89.9,572.5 90.7,572.5 90.7,574.1 91.5,574.1 91.5,575.6 92.3,575.6 92.3,577.1 93.2,577.1 93.2,578.7 94.2,578.7 94.2,580.3 95.2,580.3 95.2,581.9 96.1,581.9 96.1,583.5 97.1,583.5 97.1,585.1 98.0,585.1 98.0,586.6 99.2,586.6 99.2,588.2 100.3,588.2 100.3,589.8 101.4,589.8 101.4,591.5 102.4,591.5 102.4,593.1 103.3,593.1 103.3,594.7 104.3,594.7 104.3,596.3 105.2,596.3 105.2,597.9 106.2,597.9 106.2,599.5 107.2,599.5 107.2,601.1 108.1,601.1 108.1,602.7 109.1,602.7 109.1,604.3 110.0,604.3 110.0,605.9 110.8,605.9 110.8,607.5 111.6,607.5 111.6,609.1 112.4,609.1 112.4,610.8 113.2,610.8 113.2,612.6 113.9,612.6 113.9,614.2 114.5,614.2 114.5,615.6 115.6,615.6 115.6,617.1 117.0,617.1 117.0,618.7 118.4,618.7 118.4,620.5 119.4,620.5 119.4,622.1 120.4,622.1 120.4,623.6 121.4,623.6 121.4,625.0 122.6,625.0 122.6,626.6 123.8,626.6 123.8,628.3 124.8,628.3 124.8,629.9 125.7,629.9 125.7,631.5 126.7,631.5 126.7,633.1 127.7,633.1 127.7,634.7 128.7,634.7 128.7,636.4 129.7,636.4 129.7,638.4 130.4,638.4 130.4,640.0 131.1,640.0 131.1,641.6 131.9,641.6 131.9,643.2 132.6,643.2 132.6,644.7 133.9,644.7 133.9,646.1 135.0,646.1 135.0,647.5 136.3,647.5 136.3,649.1 137.7,649.1 137.7,650.7 139.0,650.7 139.0,652.4 139.9,652.4 139.9,654.0 140.8,654.0 140.8,655.6 141.8,655.6 141.8,657.2 142.7,657.2 142.7,658.8 143.6,658.8 143.6,660.7 144.5,660.7 144.5,662.7 145.1,662.7 145.1,664.3 145.7,664.3 145.7,665.9 146.3,665.9 146.3,667.5 146.9,667.5 146.9,669.1 147.5,669.1 147.5,670.4 148.1,670.4 148.1,671.7 149.1,671.7 149.1,673.3 150.1,673.3 150.1,674.9 151.1,674.9 151.1,676.5 152.1,676.5 152.1,678.1 153.1,678.1 153.1,679.7 154.1,679.7 154.1,681.3 155.1,681.3 155.1,682.9 156.1,682.9 156.1,684.5 157.1,684.5 157.1,686.1 158.1,686.1 158.1,687.7 159.1,687.7 159.1,689.3 160.1,689.3 160.1,690.9 160.9,690.9 160.9,692.5 161.7,692.5 161.7,694.1 162.5,694.1 162.5,695.7 163.3,695.7 163.3,697.3 164.1,697.3 164.1,698.6 165.7,698.6 165.7,700.2 167.3,700.2 167.3,701.8 168.8,701.8 168.8,703.4 170.4,703.4 170.4,704.6 172.8,704.6 172.8,705.8 175.1,705.8 175.1,706.7 176.9,706.7 176.9,707.3 178.1,707.3 178.1,707.8 179.4,707.8 179.4,708.4 181.4,708.4 181.4,709.7 182.5,709.7 182.5,711.2 183.5,711.2 183.5,712.7 184.7,712.7 184.7,714.3 185.8,714.3 185.8,715.9 187.0,715.9 187.0,717.5 188.1,717.5 188.1,718.9 189.7,718.9 189.7,720.5 191.3,720.5 191.3,722.1 192.8,722.1 192.8,723.6 194.4,723.6 194.4,725.1 196.4,725.1 196.4,726.6 198.1,726.6 198.1,727.8 199.3,727.8 199.3,729.1 201.3,729.1 201.3,730.7 203.2,730.7 203.2,732.3 205.1,732.3 205.1,733.7 206.8,733.7 206.8,735.2 208.7,735.2 208.7,736.4 210.4,736.4 210.4,737.7 212.8,737.7 212.8,739.3 215.2,739.3 215.2,741.0 217.1,741.0 217.1,742.6 219.0,742.6 219.0,744.2 220.9,744.2 220.9,745.8 222.8,745.8 222.8,747.4 224.4,747.4 224.4,749.0 226.0,749.0 226.0,750.6 227.6,750.6 227.6,752.2 229.2,752.2 229.2,753.8 230.8,753.8 230.8,755.2 232.9,755.2 232.9,756.8 235.1,756.8 235.1,758.4 237.2,758.4 237.2,760.0 239.3,760.0 239.3,761.5 241.5,761.5 241.5,763.0 244.0,763.0 244.0,764.3 245.8,764.3 245.8,765.5 247.7,765.5 247.7,766.9 250.2,766.9 250.2,768.4 252.0,768.4 252.0,769.8 254.2,769.8 254.2,771.3 255.9,771.3 255.9,772.7 258.0,772.7 258.0,774.3 260.1,774.3 260.1,775.9 262.3,775.9 262.3,777.5 264.4,777.5 264.4,779.1 266.5,779.1 266.5,780.6 268.4,780.6 268.4,782.1 270.5,782.1 270.5,783.3 272.5,783.3 272.5,784.4 274.9,784.4 274.9,785.8 278.1,785.8 278.1,787.2 280.6,787.2 280.6,788.6 283.7,788.6 283.7,790.1 286.7,790.1 286.7,791.3 288.4,791.3 288.4,792.5 291.6,792.5 291.6,793.3 294.6,793.3 294.6,794.9 297.7,794.9 297.7,797.3 299.3,797.3 299.3,798.9 300.9,798.9 300.9,800.5 302.5,800.5 302.5,802.1 304.5,802.1 304.5,803.7 306.4,803.7 306.4,805.2 308.0,805.2 308.0,806.7 310.0,806.7 310.0,808.0 311.9,808.0 311.9,809.0 314.0,809.0 314.0,810.1 316.5,810.1 316.5,811.2 318.1,811.2 318.1,812.1 320.1,812.1 320.1,812.9 321.9,812.9 321.9,813.6 323.9,813.6 323.9,814.3 325.5,814.3 325.5,814.9 326.9,814.9 326.9,815.5 329.0,815.5 329.0,816.7 332.2,816.7 332.2,818.4 334.5,818.4 334.5,819.9 337.1,819.9 337.1,821.5 339.7,821.5 339.7,822.9 342.2,822.9 342.2,823.7 344.0,823.7 344.0,824.5 346.2,824.5 346.2,825.2 347.9,825.2 347.9,826.0 350.7,826.0 350.7,826.7 352.6,826.7 352.6,827.2 354.3,827.2 354.3,827.8 357.4,827.8 357.4,828.4 359.4,828.4 359.4,828.9 361.5,828.9 361.5,829.1 363.5,829.1 363.5,829.4 366.2,829.4 366.2,829.8 369.6,829.8 369.6,830.3 372.5,830.3 372.5,831.1 376.2,831.1 376.2,831.8 378.6,831.8 378.6,832.4 380.5,832.4 380.5,832.8 383.0,832.8 383.0,833.2 385.0,833.2 385.0,833.6 387.2,833.6 387.2,834.0 389.3,834.0 389.3,834.3 391.3,834.3 391.3,834.6 393.6,834.6 393.6,834.9 396.0,834.9 396.0,835.2 399.8,835.2 399.8,835.6 401.9,835.6 401.9,836.1 405.1,836.1 405.1,836.5 406.7,836.5 406.7,836.9 409.6,836.9 409.6,837.4 411.4,837.4 411.4,837.7 413.3,837.7 413.3,838.2 416.2,838.2 416.2,838.6 417.6,838.6 417.6,838.9 419.2,838.9 419.2,839.1 422.5,839.1 422.5,839.2 424.5,839.2 424.5,839.2 427.1,839.2 427.1,839.4 430.4,839.4 430.4,839.5 432.7,839.5 432.7,839.5 435.1,839.5 435.1,839.7 437.4,839.7 437.4,840.2 439.3,840.2 439.3,840.7 442.2,840.7 442.2,841.2 443.9,841.2 443.9,841.6 445.4,841.6 445.4,842.0 447.3,842.0 447.3,842.2" fill="none" stroke="#444" stroke-width="1.9" stroke-linejoin="miter" stroke-miterlimit="2" stroke-linecap="butt"/>
<polyline points="60.6,492.5 60.6,493.9 61.0,493.9 61.0,496.4 61.4,496.4 61.4,498.0 61.8,498.0 61.8,499.6 62.2,499.6 62.2,501.2 62.6,501.2 62.6,502.8 63.1,502.8 63.1,504.4 63.5,504.4 63.5,505.9 64.0,505.9 64.0,507.4 64.5,507.4 64.5,509.0 65.0,509.0 65.0,510.6 65.5,510.6 65.5,512.1 66.0,512.1 66.0,513.6 66.6,513.6 66.6,515.2 67.1,515.2 67.1,516.8 67.7,516.8 67.7,518.4 68.3,518.4 68.3,520.0 68.9,520.0 68.9,521.6 69.5,521.6 69.5,523.3 70.0,523.3 70.0,525.0 70.5,525.0 70.5,526.6 71.0,526.6 71.0,528.2 71.5,528.2 71.5,529.8 71.9,529.8 71.9,531.5 72.3,531.5 72.3,533.1 72.7,533.1 72.7,534.7 73.1,534.7 73.1,536.1 73.9,536.1 73.9,537.7 74.7,537.7 74.7,539.3 75.5,539.3 75.5,540.9 76.5,540.9 76.5,542.5 77.5,542.5 77.5,544.1 78.4,544.1 78.4,545.7 79.4,545.7 79.4,547.4 80.3,547.4 80.3,549.0 81.1,549.0 81.1,550.6 82.0,550.6 82.0,552.2 82.9,552.2 82.9,553.8 83.8,553.8 83.8,555.4 84.7,555.4 84.7,557.0 85.5,557.0 85.5,558.6 86.4,558.6 86.4,560.2 87.3,560.2 87.3,561.8 88.2,561.8 88.2,563.4 89.1,563.4 89.1,565.0 89.9,565.0 89.9,566.5 90.9,566.5 90.9,568.1 91.9,568.1 91.9,569.7 92.8,569.7 92.8,571.3 93.8,571.3 93.8,572.9 94.7,572.9 94.7,574.5 95.7,574.5 95.7,576.1 96.7,576.1 96.7,577.7 97.8,577.7 97.8,579.3 98.8,579.3 98.8,580.9 99.9,580.9 99.9,582.5 100.9,582.5 100.9,584.1 101.9,584.1 101.9,585.6 103.0,585.6 103.0,587.0 104.3,587.0 104.3,588.6 105.5,588.6 105.5,590.1 106.6,590.1 106.6,591.5 107.9,591.5 107.9,593.1 109.1,593.1 109.1,594.6 110.3,594.6 110.3,596.0 111.3,596.0 111.3,597.4 112.6,597.4 112.6,599.0 113.9,599.0 113.9,600.7 115.1,600.7 115.1,602.4 116.3,602.4 116.3,604.0 117.4,604.0 117.4,605.6 118.5,605.6 118.5,607.2 119.6,607.2 119.6,608.8 120.7,608.8 120.7,610.5 121.9,610.5 121.9,612.2 122.8,612.2 122.8,613.8 123.8,613.8 123.8,615.4 124.7,615.4 124.7,617.0 125.7,617.0 125.7,618.6 126.7,618.6 126.7,620.2 127.6,620.2 127.6,621.8 128.6,621.8 128.6,623.4 129.5,623.4 129.5,625.0 130.5,625.0 130.5,626.8 131.3,626.8 131.3,628.4 132.1,628.4 132.1,630.0 132.9,630.0 132.9,631.6 133.7,631.6 133.7,633.2 134.5,633.2 134.5,634.8 135.3,634.8 135.3,636.5 136.0,636.5 136.0,638.1 136.7,638.1 136.7,639.7 137.4,639.7 137.4,641.3 138.1,641.3 138.1,642.9 138.8,642.9 138.8,644.2 139.4,644.2 139.4,645.4 140.5,645.4 140.5,646.9 141.6,646.9 141.6,648.5 142.7,648.5 142.7,650.1 143.9,650.1 143.9,651.7 145.0,651.7 145.0,653.3 146.0,653.3 146.0,654.9 147.0,654.9 147.0,656.5 148.0,656.5 148.0,658.1 149.0,658.1 149.0,659.7 150.1,659.7 150.1,661.3 151.1,661.3 151.1,663.0 152.1,663.0 152.1,664.7 152.9,664.7 152.9,666.3 153.8,666.3 153.8,667.9 154.7,667.9 154.7,669.5 155.6,669.5 155.6,671.1 156.5,671.1 156.5,672.7 157.3,672.7 157.3,674.2 158.2,674.2 158.2,675.7 159.2,675.7 159.2,677.3 160.2,677.3 160.2,678.9 161.2,678.9 161.2,680.5 162.2,680.5 162.2,682.1 163.3,682.1 163.3,683.7 164.3,683.7 164.3,685.1 165.9,685.1 165.9,686.7 167.5,686.7 167.5,688.3 169.1,688.3 169.1,689.9 170.7,689.9 170.7,692.0 171.6,692.0 171.6,693.6 172.4,693.6 172.4,695.2 173.3,695.2 173.3,696.8 174.2,696.8 174.2,698.4 175.1,698.4 175.1,699.9 176.5,699.9 176.5,701.5 177.9,701.5 177.9,703.1 179.3,703.1 179.3,704.7 180.8,704.7 180.8,706.3 182.2,706.3 182.2,707.8 183.6,707.8 183.6,708.8 184.6,708.8 184.6,709.8 185.8,709.8 185.8,710.8 187.1,710.8 187.1,712.2 189.0,712.2 189.0,713.6 190.5,713.6 190.5,715.0 192.4,715.0 192.4,716.5 194.2,716.5 194.2,718.0 196.0,718.0 196.0,719.3 197.3,719.3 197.3,720.5 199.2,720.5 199.2,721.8 201.0,721.8 201.0,723.2 203.4,723.2 203.4,724.8 205.8,724.8 205.8,726.4 208.2,726.4 208.2,727.7 209.7,727.7 209.7,728.7 211.4,728.7 211.4,730.1 213.8,730.1 213.8,731.9 215.7,731.9 215.7,733.5 217.6,733.5 217.6,735.0 219.4,735.0 219.4,736.8 221.3,736.8 221.3,739.0 222.3,739.0 222.3,740.6 223.4,740.6 223.4,742.2 224.5,742.2 224.5,743.8 225.5,743.8 225.5,745.9 226.2,745.9 226.2,747.5 226.9,747.5 226.9,749.1 227.6,749.1 227.6,750.7 228.3,750.7 228.3,752.3 229.0,752.3 229.0,753.5 231.4,753.5 231.4,755.1 233.8,755.1 233.8,756.4 235.3,756.4 235.3,757.7 237.7,757.7 237.7,759.3 239.9,759.3 239.9,760.7 241.5,760.7 241.5,762.1 243.7,762.1 243.7,763.5 245.5,763.5 245.5,764.9 247.0,764.9 247.0,766.3 248.8,766.3 248.8,767.9 250.7,767.9 250.7,769.5 252.5,769.5 252.5,771.1 254.4,771.1 254.4,772.7 256.2,772.7 256.2,774.2 258.3,774.2 258.3,775.8 260.5,775.8 260.5,777.4 262.6,777.4 262.6,779.0 264.7,779.0 264.7,780.3 266.3,780.3 266.3,781.5 268.4,781.5 268.4,782.8 270.3,782.8 270.3,784.2 272.9,784.2 272.9,785.5 274.6,785.5 274.6,786.7 276.6,786.7 276.6,788.1 279.1,788.1 279.1,789.5 281.1,789.5 281.1,790.9 283.7,790.9 283.7,792.3 285.5,792.3 285.5,793.5 288.7,793.5 288.7,794.8 290.5,794.8 290.5,795.7 292.4,795.7 292.4,796.8 294.6,796.8 294.6,798.5 297.8,798.5 297.8,800.7 299.7,800.7 299.7,802.2 301.6,802.2 301.6,803.8 303.5,803.8 303.5,805.4 305.4,805.4 305.4,807.0 307.4,807.0 307.4,808.6 309.2,808.6 309.2,810.1 311.2,810.1 311.2,811.4 314.4,811.4 314.4,813.0 317.6,813.0 317.6,814.4 319.8,814.4 319.8,815.4 322.1,815.4 322.1,816.1 323.8,816.1 323.8,816.9 326.4,816.9 326.4,818.1 329.8,818.1 329.8,819.6 333.2,819.6 333.2,821.1 336.1,821.1 336.1,822.6 339.3,822.6 339.3,824.0 341.6,824.0 341.6,825.4 344.8,825.4 344.8,826.8 347.1,826.8 347.1,827.8 349.1,827.8 349.1,828.8 351.3,828.8 351.3,829.5 354.0,829.5 354.0,830.2 357.0,830.2 357.0,830.9 360.1,830.9 360.1,831.6 362.5,831.6 362.5,832.1 364.2,832.1 364.2,832.6 366.5,832.6 366.5,833.2 368.6,833.2 368.6,833.8 371.7,833.8 371.7,834.6 374.6,834.6 374.6,835.2 376.5,835.2 376.5,835.6 378.0,835.6 378.0,836.2 381.5,836.2 381.5,836.5 383.6,836.5 383.6,836.7 386.9,836.7 386.9,836.8 388.4,836.8 388.4,837.0 391.0,837.0 391.0,837.2 393.4,837.2 393.4,837.5 396.3,837.5 396.3,837.8 399.2,837.8 399.2,838.0 401.5,838.0 401.5,838.4 404.9,838.4 404.9,838.7 406.7,838.7 406.7,839.0 409.8,839.0 409.8,839.3 411.7,839.3 411.7,839.6 413.5,839.6 413.5,839.8 415.7,839.8 415.7,840.1 417.4,840.1 417.4,840.3 419.3,840.3 419.3,840.5 420.7,840.5 420.7,840.6 423.2,840.6 423.2,840.8 425.9,840.8 425.9,841.0 428.0,841.0 428.0,841.2 431.4,841.2 431.4,841.4 434.8,841.4 434.8,841.6 436.7,841.6 436.7,841.8 439.1,841.8 439.1,842.1 441.4,842.1 441.4,842.4 443.1,842.4 443.1,842.8 446.6,842.8 446.6,843.1 447.3,843.1 447.3,843.2" fill="none" stroke="#8e8e8e" stroke-width="1.9" stroke-linejoin="miter" stroke-miterlimit="2" stroke-linecap="butt"/>
<polyline points="226.1,756.1 226.1,757.4 228.2,757.4 228.2,758.6 231.2,758.6 231.2,760.1 234.0,760.1 234.0,761.6 237.2,761.6 237.2,762.8 238.8,762.8 238.8,763.6 240.5,763.6 240.5,764.7 243.1,764.7 243.1,766.2 246.3,766.2 246.3,767.4 248.1,767.4 248.1,768.5 250.8,768.5 250.8,769.6 252.2,769.6 252.2,770.5 254.8,770.5 254.8,771.8 257.4,771.8 257.4,773.2 260.3,773.2 260.3,774.7 263.4,774.7 263.4,776.3 266.6,776.3 266.6,777.7 269.0,777.7 269.0,778.8 271.2,778.8 271.2,780.2 274.4,780.2 274.4,781.6 276.7,781.6 276.7,783.0 279.9,783.0 279.9,784.3 282.1,784.3 282.1,785.2 283.6,785.2 283.6,786.3 286.3,786.3 286.3,787.7 289.5,787.7 289.5,789.0 291.4,789.0 291.4,790.2 294.1,790.2 294.1,791.4 296.1,791.4 296.1,792.8 298.5,792.8 298.5,794.4 300.9,794.4 300.9,796.0 303.3,796.0 303.3,797.6 304.8,797.6 304.8,798.9 306.5,798.9 306.5,800.4 308.4,800.4 308.4,802.0 310.3,802.0 310.3,803.0 312.4,803.0 312.4,804.0 315.5,804.0 315.5,805.1 318.2,805.1 318.2,805.9 319.9,805.9 319.9,807.0 322.4,807.0 322.4,808.3 324.3,808.3 324.3,809.4 326.4,809.4 326.4,810.9 327.6,810.9 327.6,812.5 328.9,812.5 328.9,814.1 330.2,814.1 330.2,815.7 331.4,815.7 331.4,816.9 333.1,816.9 333.1,817.8 334.9,817.8 334.9,819.1 337.5,819.1 337.5,820.7 340.3,820.7 340.3,822.1 343.8,822.1 343.8,823.0 345.5,823.0 345.5,824.0 349.2,824.0 349.2,825.1 352.4,825.1 352.4,825.5 355.1,825.5 355.1,825.9 358.0,825.9 358.0,826.2 360.9,826.2 360.9,826.5 362.9,826.5 362.9,826.9 366.7,826.9 366.7,827.2 368.6,827.2 368.6,827.5 371.5,827.5 371.5,828.0 373.0,828.0 373.0,828.3 374.9,828.3 374.9,828.7 377.0,828.7 377.0,829.1 378.9,829.1 378.9,829.5 381.5,829.5 381.5,830.1 384.7,830.1 384.7,830.7 387.2,830.7 387.2,831.1 388.7,831.1 388.7,831.5 391.9,831.5 391.9,831.8 395.0,831.8 395.0,832.1 398.8,832.1 398.8,832.4 400.4,832.4 400.4,832.6 402.8,832.6 402.8,833.0 406.2,833.0 406.2,833.5 408.9,833.5 408.9,833.8 411.1,833.8 411.1,834.1 413.6,834.1 413.6,834.4 417.2,834.4 417.2,834.7 420.5,834.7 420.5,835.1 423.4,835.1 423.4,835.4 426.8,835.4 426.8,835.6 428.9,835.6 428.9,835.8 431.5,835.8 431.5,836.0 433.0,836.0 433.0,836.2 435.1,836.2 435.1,836.5 437.1,836.5 437.1,837.1 439.1,837.1 439.1,838.0 442.5,838.0 442.5,839.4 445.5,839.4 445.5,840.6 447.3,840.6 447.3,841.0" fill="none" stroke="#111" stroke-width="2.1" stroke-linejoin="miter" stroke-miterlimit="2" stroke-linecap="butt"/>
<polyline points="295.0,768.8 295.0,770.1 297.6,770.1 297.6,772.7 300.3,772.7 300.3,775.1 302.9,775.1 302.9,776.5 306.3,776.5 306.3,778.0 310.2,778.0 310.2,779.5 314.9,779.5 314.9,780.6 317.6,780.6 317.6,781.4 320.7,781.4 320.7,781.9 324.9,781.9 324.9,782.3 327.3,782.3 327.3,783.3 331.2,783.3 331.2,785.0 335.1,785.0 335.1,786.5 341.0,786.5 341.0,787.2 345.2,787.2 345.2,787.8 349.1,787.8 349.1,788.4 353.2,788.4 353.2,789.7 356.3,789.7 356.3,792.6 358.9,792.6 358.9,794.4 363.5,794.4 363.5,798.9 368.2,798.9 368.2,799.4 374.3,799.4 374.3,799.9 378.8,799.9 378.8,801.6 382.5,801.6 382.5,803.8 387.6,803.8 387.6,804.7 390.0,804.7 390.0,805.0 395.6,805.0 395.6,809.8 403.2,809.8 403.2,811.8 410.6,811.8 410.6,817.7 423.2,817.7 423.2,822.7 432.0,822.7 432.0,826.0 439.4,826.0 439.4,829.0 447.5,829.0" fill="none" stroke="#444" stroke-width="1.55" stroke-linejoin="miter" stroke-miterlimit="2" stroke-linecap="butt"/>
<polyline points="60.6,492.5 60.6,493.7 61.0,493.7 61.0,496.0 61.4,496.0 61.4,497.5 61.9,497.5 61.9,499.1 62.4,499.1 62.4,500.7 62.8,500.7 62.8,502.4 63.3,502.4 63.3,504.0 63.7,504.0 63.7,505.6 64.2,505.6 64.2,507.1 64.7,507.1 64.7,508.7 65.2,508.7 65.2,510.3 65.8,510.3 65.8,511.9 66.3,511.9 66.3,513.4 66.9,513.4 66.9,515.0 67.5,515.0 67.5,516.6 68.0,516.6 68.0,518.2 68.6,518.2 68.6,519.8 69.2,519.8 69.2,521.4 69.9,521.4 69.9,523.0 70.5,523.0 70.5,524.7 71.0,524.7 71.0,526.3 71.6,526.3 71.6,527.9 72.1,527.9 72.1,529.6 72.7,529.6 72.7,531.3 73.1,531.3 73.1,532.9 73.6,532.9 73.6,534.5 74.1,534.5 74.1,535.9 75.0,535.9 75.0,537.5 76.0,537.5 76.0,539.1 77.0,539.1 77.0,540.7 77.9,540.7 77.9,542.3 78.9,542.3 78.9,543.9 79.8,543.9 79.8,545.5 80.8,545.5 80.8,547.0 81.8,547.0 81.8,548.6 82.9,548.6 82.9,550.2 83.9,550.2 83.9,551.8 85.0,551.8 85.0,553.4 86.0,553.4 86.0,555.0 87.0,555.0 87.0,556.6 88.1,556.6 88.1,558.2 89.1,558.2 89.1,559.8 90.2,559.8 90.2,561.4 91.2,561.4 91.2,563.0 92.2,563.0 92.2,564.6 93.3,564.6 93.3,566.2 94.3,566.2 94.3,567.8 95.3,567.8 95.3,569.4 96.3,569.4 96.3,571.0 97.4,571.0 97.4,572.6 98.4,572.6 98.4,574.2 99.5,574.2 99.5,575.9 100.5,575.9 100.5,577.6 101.4,577.6 101.4,579.2 102.3,579.2 102.3,580.8 103.1,580.8 103.1,582.4 104.0,582.4 104.0,584.0 104.9,584.0 104.9,585.4 105.8,585.4 105.8,586.8 107.1,586.8 107.1,588.4 108.3,588.4 108.3,589.9 109.5,589.9 109.5,591.3 110.5,591.3 110.5,592.7 111.8,592.7 111.8,594.3 113.1,594.3 113.1,595.9 114.2,595.9 114.2,597.5 115.3,597.5 115.3,599.1 116.5,599.1 116.5,600.7 117.6,600.7 117.6,602.2 118.6,602.2 118.6,603.8 119.7,603.8 119.7,605.3 120.8,605.3 120.8,606.7 121.8,606.7 121.8,608.1 123.1,608.1 123.1,609.7 124.4,609.7 124.4,610.7 125.5,610.7 125.5,611.9 127.6,611.9 127.6,613.1 128.6,613.1 128.6,614.4 130.2,614.4 130.2,616.0 131.8,616.0 131.8,618.1 133.3,618.1 133.3,620.4 134.1,620.4 134.1,622.0 134.9,622.0 134.9,623.4 136.0,623.4 136.0,624.9 137.0,624.9 137.0,626.4 138.1,626.4 138.1,628.0 139.2,628.0 139.2,629.6 140.4,629.6 140.4,631.2 141.5,631.2 141.5,632.7 142.6,632.7 142.6,634.3 143.8,634.3 143.8,635.9 145.0,635.9 145.0,637.5 146.1,637.5 146.1,639.1 147.3,639.1 147.3,640.7 148.4,640.7 148.4,642.3 149.5,642.3 149.5,643.9 150.6,643.9 150.6,645.5 151.8,645.5 151.8,647.1 153.0,647.1 153.0,648.7 154.2,648.7 154.2,650.3 155.4,650.3 155.4,651.9 156.6,651.9 156.6,653.5 157.8,653.5 157.8,655.0 159.2,655.0 159.2,656.6 160.6,656.6 160.6,658.2 162.0,658.2 162.0,659.8 163.4,659.8 163.4,661.4 164.7,661.4 164.7,663.1 166.1,663.1 166.1,664.8 167.3,664.8 167.3,666.4 168.5,666.4 168.5,668.0 169.7,668.0 169.7,669.6 170.9,669.6 170.9,671.2 172.1,671.2 172.1,672.8 173.3,672.8 173.3,674.4 174.5,674.4 174.5,676.0 175.7,676.0 175.7,677.6 176.9,677.6 176.9,679.2 178.1,679.2 178.1,680.8 179.3,680.8 179.3,682.4 180.5,682.4 180.5,684.1 181.6,684.1 181.6,685.7 182.7,685.7 182.7,687.3 183.7,687.3 183.7,688.9 184.8,688.9 184.8,690.4 185.9,690.4 185.9,691.8 187.2,691.8 187.2,693.4 188.6,693.4 188.6,695.0 189.9,695.0 189.9,696.6 191.3,696.6 191.3,698.2 192.7,698.2 192.7,699.8 194.3,699.8 194.3,701.4 195.9,701.4 195.9,703.0 197.5,703.0 197.5,704.6 199.1,704.6 199.1,706.2 200.7,706.2 200.7,707.9 202.1,707.9 202.1,709.5 203.4,709.5 203.4,711.1 204.8,711.1 204.8,712.7 206.2,712.7 206.2,714.3 207.6,714.3 207.6,715.9 209.8,715.9 209.8,717.5 212.0,717.5 212.0,718.9 213.9,718.9 213.9,720.4 216.1,720.4 216.1,721.9 218.1,721.9 218.1,723.3 220.1,723.3 220.1,724.6 221.8,724.6 221.8,726.0 224.0,726.0 224.0,727.6 226.3,727.6 226.3,729.4 228.1,729.4 228.1,731.0 230.0,731.0 230.0,732.6 231.9,732.6 231.9,734.2 233.8,734.2 233.8,735.7 235.7,735.7 235.7,737.3 237.6,737.3 237.6,738.9 239.6,738.9 239.6,740.2 241.5,740.2 241.5,741.2 244.1,741.2 244.1,742.5 247.3,742.5 247.3,743.6 249.4,743.6 249.4,745.0 251.3,745.0 251.3,746.5 253.0,746.5 253.0,747.8 254.5,747.8 254.5,749.0 256.5,749.0 256.5,750.0 260.2,750.0 260.2,751.1 262.1,751.1 262.1,751.7 263.7,751.7 263.7,752.7 266.8,752.7 266.8,754.3 268.9,754.3 268.9,755.7 271.3,755.7 271.3,757.3 273.9,757.3 273.9,758.9 276.4,758.9 276.4,759.9 278.1,759.9 278.1,760.8 280.1,760.8 280.1,761.9 282.5,761.9 282.5,762.9 284.1,762.9 284.1,764.0 286.8,764.0 286.8,765.5 290.0,765.5 290.0,767.0 293.0,767.0 293.0,768.3 295.0,768.3 295.0,768.8" fill="none" stroke="#444" stroke-width="1.9" stroke-linejoin="miter" stroke-miterlimit="2" stroke-linecap="butt"/>
<polyline points="60.6,492.5 60.6,493.4 61.0,493.4 61.0,495.1 61.4,495.1 61.4,496.8 61.9,496.8 61.9,498.4 62.4,498.4 62.4,500.0 63.0,500.0 63.0,501.7 63.4,501.7 63.4,503.3 63.9,503.3 63.9,504.9 64.4,504.9 64.4,506.4 64.8,506.4 64.8,507.8 65.4,507.8 65.4,509.4 66.0,509.4 66.0,511.0 66.5,511.0 66.5,512.6 67.1,512.6 67.1,514.2 67.7,514.2 67.7,515.8 68.3,515.8 68.3,517.4 68.8,517.4 68.8,519.0 69.5,519.0 69.5,520.6 70.1,520.6 70.1,522.2 70.7,522.2 70.7,523.8 71.4,523.8 71.4,525.6 71.9,525.6 71.9,527.2 72.5,527.2 72.5,528.8 73.0,528.8 73.0,530.5 73.5,530.5 73.5,532.1 74.0,532.1 74.0,533.7 74.5,533.7 74.5,534.6 74.6,534.6 74.6,534.8 74.6,535.5 75.6,535.5 75.6,537.0 76.6,537.0 76.6,538.5 77.5,538.5 77.5,540.0 78.5,540.0 78.5,541.5 79.5,541.5 79.5,543.0 80.5,543.0 80.5,544.5 81.5,544.5 81.5,545.4 83.5,545.4 83.5,547.1 86.0,547.1 86.0,550.7 86.7,550.7 86.7,552.2 87.5,552.2 87.5,553.7 88.2,553.7 88.2,555.1 89.0,555.1 89.0,556.3 90.3,556.3 90.3,557.8 91.6,557.8 91.6,559.3 93.0,559.3 93.0,560.8 94.1,560.8 94.1,562.3 95.3,562.3 95.3,563.8 96.5,563.8 96.5,565.9 97.1,565.9 97.1,567.4 97.7,567.4 97.7,568.9 98.3,568.9 98.3,570.0 99.8,570.0 99.8,571.5 101.3,571.5 101.3,573.0 102.8,573.0 102.8,574.5 104.3,574.5 104.3,576.0 105.8,576.0 105.8,578.3 106.5,578.3 106.5,579.8 107.3,579.8 107.3,581.6 108.0,581.6 108.0,583.9 108.4,583.9 108.4,585.1 108.8,585.1 108.8,586.1 110.1,586.1 110.1,587.6 111.3,587.6 111.3,588.9 114.3,588.9 114.3,591.4 117.3,591.4 117.3,594.6 118.2,594.6 118.2,596.0 119.7,596.0 119.7,597.4 121.2,597.4 121.2,598.9 122.7,598.9 122.7,600.4 124.1,600.4 124.1,601.3 127.3,601.3 127.3,601.9 129.4,601.9 129.4,602.8 132.9,602.8 132.9,606.7 136.9,606.7 136.9,608.3 140.3,608.3 140.3,610.5 141.8,610.5 141.8,612.4 142.3,612.4 142.3,613.9 142.9,613.9 142.9,615.2 143.4,615.2 143.4,616.4 144.4,616.4 144.4,617.9 145.4,617.9 145.4,619.4 146.4,619.4 146.4,620.8 150.0,620.8 150.0,622.7 153.0,622.7 153.0,623.8 155.5,623.8 155.5,626.0 157.5,626.0 157.5,628.5 161.0,628.5 161.0,630.0 164.5,630.0 164.5,632.0 168.0,632.0 168.0,633.2 173.3,633.2 173.3,636.0 174.8,636.0 174.8,639.5 176.8,639.5 176.8,643.0 178.8,643.0 178.8,646.0 180.8,646.0 180.8,648.2 184.5,648.2 184.5,649.6 188.5,649.6 188.5,650.8 193.0,650.8 193.0,651.8 197.3,651.8 197.3,653.5 200.0,653.5 200.0,655.8 202.5,655.8 202.5,659.0 204.6,659.0 204.6,662.5 206.8,662.5 206.8,666.0 209.5,666.0 209.5,667.0 214.6,667.0 214.6,668.9 216.5,668.9 216.5,669.3 223.3,669.3 223.3,674.0 225.0,674.0 225.0,677.5 226.7,677.5 226.7,680.2 238.6,680.2 238.6,683.5 240.3,683.5 240.3,688.0 242.0,688.0 242.0,693.2 243.4,693.2 262.8,693.2 262.8,707.2 269.0,707.2 269.0,715.0 297.5,715.0" fill="none" stroke="#111" stroke-width="2.2" stroke-linejoin="miter" stroke-miterlimit="2" stroke-linecap="butt"/>
<text class="pl" transform="translate(0.4 491.5) scale(1.04 1)" font-size="24">B</text>
<line x1="327.5" y1="523.8" x2="356.8" y2="523.8" stroke="#111" stroke-width="2.0"/>
<text class="lg" x="363.8" y="527.6" textLength="44.5">1971-76</text>
<line x1="327.5" y1="548.8" x2="356.8" y2="548.8" stroke="#cfcfcf" stroke-width="1.6"/>
<text class="lg" x="363.8" y="552.6" textLength="44.5">1977-82</text>
<line x1="327.5" y1="573" x2="356.8" y2="573" stroke="#555" stroke-width="1.7"/>
<text class="lg" x="363.8" y="576.8" textLength="44.5">1983-88</text>
<line x1="327.5" y1="598" x2="356.8" y2="598" stroke="#999" stroke-width="1.7"/>
<text class="lg" x="363.8" y="601.8" textLength="44.5">1989-94</text>
<line x1="327.5" y1="624.5" x2="356.8" y2="624.5" stroke="#555" stroke-width="1.7"/>
<text class="lg" x="363.8" y="628.3" textLength="44.5">1994-00</text>
<line x1="327.5" y1="650.2" x2="356.8" y2="650.2" stroke="#111" stroke-width="2.0"/>
<text class="lg" x="363.8" y="654.0" textLength="44.5">2001-06</text>
<text class="ax" x="285" y="917.5" text-anchor="middle" textLength="36">Time</text>
<text class="ay" transform="translate(11.8 698) rotate(-90)" textLength="54">Survival</text>
</svg>
</body>
</html>
